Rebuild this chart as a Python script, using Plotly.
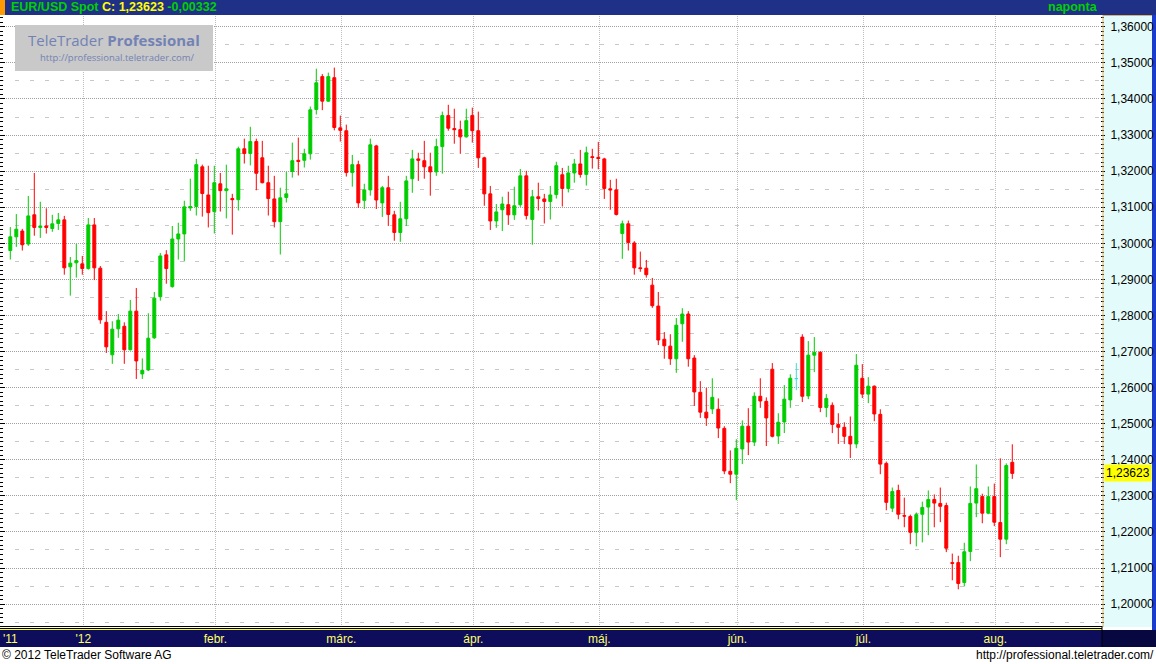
import pandas as pd
import plotly.graph_objects as go

# ---------------- data ----------------
start_date = "2011-12-15"
n_days = 168
dates = pd.bdate_range(start_date, periods=n_days) + pd.Timedelta(hours=12)

opens = [1.2980, 1.3018, 1.3034, 1.2998, 1.3079, 1.3044, 1.3048, 1.3041, 1.3055, 1.3065,
         1.2935, 1.2946, 1.2943, 1.2930, 1.3051, 1.2931, 1.2781, 1.2691, 1.2763, 1.2770,
         1.2705, 1.2812, 1.2638, 1.2649, 1.2738, 1.2852, 1.2968, 1.2880, 1.3012, 1.3026,
         1.3098, 1.3102, 1.3212, 1.3134, 1.3088, 1.3165, 1.3146, 1.3124, 1.3121, 1.3262,
         1.3249, 1.3282, 1.3237, 1.3168, 1.3123, 1.3060, 1.3127, 1.3199, 1.3230, 1.3230,
         1.3248, 1.3371, 1.3462, 1.3394, 1.3459, 1.3320, 1.3312, 1.3196, 1.3218, 1.3119,
         1.3148, 1.3270, 1.3112, 1.3154, 1.3079, 1.3030, 1.3068, 1.3179, 1.3234, 1.3229,
         1.3212, 1.3198, 1.3268, 1.3354, 1.3318, 1.3315, 1.3295, 1.3354, 1.3312, 1.3237,
         1.3137, 1.3062, 1.3093, 1.3107, 1.3079, 1.3107, 1.3187, 1.3066, 1.3129, 1.3123,
         1.3116, 1.3135, 1.3190, 1.3152, 1.3195, 1.3220, 1.3191, 1.3240, 1.3238, 1.3234,
         1.3151, 1.3148, 1.3027, 1.3054, 1.3001, 1.2932, 1.2931, 1.2884, 1.2826, 1.2734,
         1.2715, 1.2680, 1.2777, 1.2804, 1.2682, 1.2587, 1.2532, 1.2541, 1.2540, 1.2487,
         1.2368, 1.2360, 1.2430, 1.2493, 1.2449, 1.2576, 1.2562, 1.2651, 1.2466, 1.2505,
         1.2566, 1.2625, 1.2740, 1.2577, 1.2690, 1.2698, 1.2545, 1.2551, 1.2498, 1.2490,
         1.2465, 1.2444, 1.2626, 1.2582, 1.2604, 1.2526, 1.2390, 1.2266, 1.2315, 1.2245,
         1.2243, 1.2199, 1.2249, 1.2269, 1.2290, 1.2279, 1.2273, 1.2115, 1.2115, 1.2060,
         1.2146, 1.2280, 1.2298, 1.2252, 1.2298, 1.2226, 1.2180, 1.2393]

highs = [1.3045, 1.3081, 1.3040, 1.3131, 1.3195, 1.3115, 1.3097, 1.3079, 1.3084, 1.3076,
         1.2962, 1.2998, 1.2965, 1.3070, 1.3070, 1.2937, 1.2812, 1.2784, 1.2804, 1.2781,
         1.2843, 1.2876, 1.2681, 1.2806, 1.2865, 1.2973, 1.2981, 1.3048, 1.3057, 1.3118,
         1.3179, 1.3234, 1.3218, 1.3215, 1.3215, 1.3195, 1.3218, 1.3137, 1.3268, 1.3290,
         1.3323, 1.3290, 1.3284, 1.3215, 1.3187, 1.3154, 1.3198, 1.3279, 1.3293, 1.3262,
         1.3379, 1.3484, 1.3469, 1.3473, 1.3487, 1.3354, 1.3329, 1.3245, 1.3229, 1.3165,
         1.3290, 1.3273, 1.3159, 1.3187, 1.3090, 1.3115, 1.3187, 1.3259, 1.3251, 1.3284,
         1.3251, 1.3290, 1.3365, 1.3384, 1.3373, 1.3340, 1.3373, 1.3376, 1.3365, 1.3240,
         1.3159, 1.3109, 1.3129, 1.3143, 1.3157, 1.3206, 1.3201, 1.3148, 1.3168, 1.3137,
         1.3159, 1.3226, 1.3209, 1.3215, 1.3234, 1.3259, 1.3268, 1.3262, 1.3281, 1.3237,
         1.3176, 1.3179, 1.3063, 1.3063, 1.3006, 1.2977, 1.2954, 1.2904, 1.2865, 1.2754,
         1.2748, 1.2793, 1.2820, 1.2812, 1.2690, 1.2618, 1.2599, 1.2626, 1.2570, 1.2493,
         1.2426, 1.2457, 1.2509, 1.2543, 1.2587, 1.2626, 1.2573, 1.2668, 1.2529, 1.2607,
         1.2637, 1.2668, 1.2748, 1.2729, 1.2740, 1.2701, 1.2582, 1.2559, 1.2529, 1.2504,
         1.2520, 1.2693, 1.2665, 1.2629, 1.2606, 1.2540, 1.2395, 1.2323, 1.2331, 1.2295,
         1.2248, 1.2254, 1.2284, 1.2315, 1.2304, 1.2323, 1.2281, 1.2140, 1.2134, 1.2170,
         1.2326, 1.2387, 1.2306, 1.2326, 1.2334, 1.2404, 1.2390, 1.2443]

lows = [1.2955, 1.2990, 1.2980, 1.2993, 1.3021, 1.3015, 1.3027, 1.3032, 1.3037, 1.2913,
        1.2855, 1.2905, 1.2913, 1.2927, 1.2898, 1.2777, 1.2696, 1.2666, 1.2738, 1.2666,
        1.2703, 1.2624, 1.2624, 1.2646, 1.2735, 1.2841, 1.2888, 1.2877, 1.2955, 1.2950,
        1.3090, 1.3077, 1.3074, 1.3044, 1.3027, 1.3088, 1.3069, 1.3024, 1.3091, 1.3221,
        1.3216, 1.3147, 1.3166, 1.3077, 1.3044, 1.2969, 1.3113, 1.3182, 1.3188, 1.3210,
        1.3232, 1.3357, 1.3369, 1.3392, 1.3313, 1.3282, 1.3185, 1.3157, 1.3098, 1.3095,
        1.3132, 1.3095, 1.3073, 1.3048, 1.3007, 1.3004, 1.3048, 1.3140, 1.3173, 1.3179,
        1.3132, 1.3187, 1.3193, 1.3312, 1.3276, 1.3248, 1.3293, 1.3279, 1.3209, 1.3104,
        1.3037, 1.3043, 1.3034, 1.3051, 1.3065, 1.3101, 1.3066, 1.2996, 1.3091, 1.3055,
        1.3066, 1.3124, 1.3102, 1.3141, 1.3168, 1.3182, 1.3160, 1.3207, 1.3205, 1.3123,
        1.3093, 1.3077, 1.2957, 1.2980, 1.2913, 1.2921, 1.2905, 1.2821, 1.2718, 1.2680,
        1.2663, 1.2641, 1.2727, 1.2658, 1.2549, 1.2516, 1.2494, 1.2527, 1.2460, 1.2360,
        1.2335, 1.2288, 1.2388, 1.2413, 1.2438, 1.2544, 1.2438, 1.2462, 1.2444, 1.2474,
        1.2544, 1.2593, 1.2560, 1.2568, 1.2643, 1.2532, 1.2518, 1.2474, 1.2444, 1.2444,
        1.2405, 1.2432, 1.2571, 1.2557, 1.2507, 1.2360, 1.2260, 1.2255, 1.2235, 1.2213,
        1.2166, 1.2160, 1.2171, 1.2191, 1.2213, 1.2227, 1.2144, 1.2066, 1.2041, 1.2049,
        1.2119, 1.2241, 1.2224, 1.2249, 1.2216, 1.2130, 1.2166, 1.2347]

closes = [1.3018, 1.3039, 1.2996, 1.3076, 1.3044, 1.3048, 1.3044, 1.3054, 1.3065, 1.2932,
          1.2945, 1.2952, 1.2930, 1.3051, 1.2932, 1.2788, 1.2713, 1.2762, 1.2787, 1.2705,
          1.2812, 1.2674, 1.2648, 1.2737, 1.2848, 1.2965, 1.2930, 1.3012, 1.3026, 1.3101,
          1.3102, 1.3218, 1.3138, 1.3085, 1.3168, 1.3146, 1.3151, 1.3121, 1.3262, 1.3249,
          1.3282, 1.3194, 1.3168, 1.3124, 1.3060, 1.3126, 1.3137, 1.3229, 1.3227, 1.3248,
          1.3370, 1.3445, 1.3394, 1.3462, 1.3321, 1.3313, 1.3196, 1.3218, 1.3112, 1.3148,
          1.3273, 1.3120, 1.3154, 1.3080, 1.3030, 1.3068, 1.3173, 1.3234, 1.3230, 1.3212,
          1.3198, 1.3268, 1.3354, 1.3319, 1.3315, 1.3295, 1.3340, 1.3312, 1.3237, 1.3137,
          1.3062, 1.3087, 1.3109, 1.3079, 1.3104, 1.3187, 1.3077, 1.3129, 1.3124, 1.3116,
          1.3134, 1.3215, 1.3152, 1.3195, 1.3220, 1.3191, 1.3251, 1.3238, 1.3235, 1.3152,
          1.3148, 1.3080, 1.3054, 1.3002, 1.2932, 1.2930, 1.2913, 1.2827, 1.2732, 1.2716,
          1.2680, 1.2773, 1.2804, 1.2680, 1.2588, 1.2532, 1.2516, 1.2573, 1.2488, 1.2369,
          1.2360, 1.2432, 1.2493, 1.2449, 1.2576, 1.2563, 1.2516, 1.2465, 1.2504, 1.2568,
          1.2626, 1.2625, 1.2576, 1.2690, 1.2698, 1.2545, 1.2570, 1.2498, 1.2490, 1.2465,
          1.2444, 1.2662, 1.2582, 1.2604, 1.2527, 1.2388, 1.2282, 1.2312, 1.2249, 1.2244,
          1.2199, 1.2248, 1.2268, 1.2290, 1.2280, 1.2271, 1.2155, 1.2113, 1.2057, 1.2145,
          1.2279, 1.2320, 1.2252, 1.2298, 1.2227, 1.2180, 1.2384, 1.23623]

month_starts = ["2012-01-02", "2012-02-01", "2012-03-01", "2012-04-02",
                "2012-05-01", "2012-06-01", "2012-07-02", "2012-08-01"]
month_labels = ["'12", "febr.", "márc.", "ápr.", "máj.", "jún.", "júl.", "aug."]
first_label = "'11"

instrument = "EUR/USD Spot"
last_close = 1.23623
last_change = -0.00332
period_label = "naponta"

# ---------------- layout helpers ----------------
W, H = 1156, 664
PL, PR, PT, PB = 0, 1100, 16, 626          # plot area in pixels
PW, PH = PR - PL, PB - PT


def px(x):
    return (x - PL) / PW


def py(y):
    return (PB - y) / PH


y_range = [1.19393, 1.36300]
x_range = ["2011-12-13 18:45", "2012-08-27 02:50"]

GREEN = "#00cc00"
RED = "#ff0000"
CYAN = "#33dede"
FONT = "Liberation Sans, Arial, sans-serif"

df = pd.DataFrame({"d": dates, "o": opens, "h": highs, "l": lows, "c": closes})
flat = df["o"] == df["c"]
main = df[~flat]
even = df[flat]

fig = go.Figure()
fig.add_trace(go.Candlestick(
    x=main["d"], open=main["o"], high=main["h"], low=main["l"], close=main["c"],
    increasing=dict(line=dict(color=GREEN, width=1), fillcolor=GREEN),
    decreasing=dict(line=dict(color=RED, width=1), fillcolor=RED),
    whiskerwidth=0, showlegend=False, hoverinfo="x+y"))
fig.add_trace(go.Candlestick(
    x=even["d"], open=even["o"], high=even["h"], low=even["l"], close=even["c"],
    increasing=dict(line=dict(color=CYAN, width=1), fillcolor=CYAN),
    decreasing=dict(line=dict(color=CYAN, width=1), fillcolor=CYAN),
    whiskerwidth=0, showlegend=False, hoverinfo="x+y"))
# helper traces so the extra tick axes are drawn
fig.add_trace(go.Scatter(x=[dates[0]], y=[None], yaxis="y2", showlegend=False, hoverinfo="skip"))
fig.add_trace(go.Scatter(x=[dates[0]], y=[None], yaxis="y3", showlegend=False, hoverinfo="skip"))

half_steps = [round(1.195 + 0.01 * i, 3) for i in range(17)]
tick_font = dict(family=FONT, size=12, color="black")

fig.update_layout(
    width=W, height=H,
    margin=dict(l=PL, r=W - PR, t=PT, b=H - PB, pad=0),
    paper_bgcolor="white", plot_bgcolor="white",
    separators=", ",
    showlegend=False,
    boxgap=0.3,
    xaxis=dict(
        type="date", range=x_range,
        rangebreaks=[dict(bounds=["sat", "mon"])],
        rangeslider=dict(visible=False),
        tickmode="array",
        tickvals=[pd.Timestamp(m) + pd.Timedelta(hours=16) for m in month_starts],
        ticktext=month_labels,
        ticks="", showline=False, zeroline=False,
        showgrid=True, gridcolor="#bdbdbd", griddash="1px,1px", gridwidth=1,
        tickfont=dict(family=FONT, size=12, color="#ffff66"),
        ticklabelstandoff=4,
        fixedrange=True,
    ),
    yaxis=dict(
        range=y_range, side="right",
        tick0=1.20, dtick=0.01, tickformat=".5f",
        ticks="outside", ticklen=4, tickcolor="black", tickwidth=1,
        tickfont=tick_font, ticklabelstandoff=3,
        showgrid=True, gridcolor="#a0a0a0", griddash="1px,1px", gridwidth=1,
        minor=dict(tick0=1.20, dtick=0.00125, ticks="outside", ticklen=3,
                   tickcolor="black", showgrid=False),
        zeroline=False, showline=False, fixedrange=True,
    ),
    yaxis2=dict(
        range=y_range, overlaying="y", side="right",
        tickmode="array", tickvals=half_steps,
        showticklabels=False, ticks="",
        showgrid=True, gridcolor="#c8c8c8", griddash="4px,11px", gridwidth=1,
        zeroline=False, showline=False, fixedrange=True,
    ),
    yaxis3=dict(
        range=y_range, overlaying="y", side="left",
        tick0=1.20, dtick=0.01, ticks="inside", ticklen=5, tickcolor="black",
        showticklabels=False, showgrid=False,
        minor=dict(tick0=1.20, dtick=0.00125, ticks="inside", ticklen=3,
                   tickcolor="black", showgrid=False),
        zeroline=False, showline=False, fixedrange=True,
    ),
)

shapes = []


def rect(x0, y0, x1, y1, color, layer="below"):
    shapes.append(dict(type="rect", xref="paper", yref="paper",
                       x0=px(x0), x1=px(x1), y0=py(y1), y1=py(y0),
                       fillcolor=color, line=dict(width=0), layer=layer))


def hline(x0, x1, y, color, width=1, layer="above"):
    shapes.append(dict(type="line", xref="paper", yref="paper",
                       x0=px(x0), x1=px(x1), y0=py(y), y1=py(y),
                       line=dict(color=color, width=width), layer=layer))


def vline(x, y0, y1, color, width=1, layer="above"):
    shapes.append(dict(type="line", xref="paper", yref="paper",
                       x0=px(x), x1=px(x), y0=py(y0), y1=py(y1),
                       line=dict(color=color, width=width), layer=layer))


# header band
rect(0, 0, W, 15, "#1f3187")
rect(0, 0, 5, 15, "#ff9a00")
# right price panel
rect(1103, 15, 1152, 627, "#e3fbfb")
vline(1103, 15, 627, "#d8b46a")
hline(1103, 1152, 15.5, "#d8b46a")
rect(1152, 15, W, 630, "#1a3ccc")
# bottom axis band
rect(0, 630, W, 647, "#0d0d5c")
rect(1102, 630, W, 647, "#080840")
hline(0, 1102, 626.5, "black")
hline(0, 1102, 628.5, "black")
hline(0, 1102, 629.5, "#ffff00")
vline(1102, 626, 647, "black")
# watermark box
rect(15, 25, 213, 71, "#c9c9c9", layer="above")

fig.update_layout(shapes=shapes)

green_txt = "#00d000"
ann = [
    dict(x=px(9), y=py(7.5), xref="paper", yref="paper", xanchor="left", yanchor="middle",
         showarrow=False,
         text=(f"<b><span style='color:{green_txt}'>{instrument} </span>"
               f"<span style='color:#ffff00'>C: {last_close:.5f}".replace(".", ",") + "</span>"
               f"<span style='color:{green_txt}'> {last_change:.5f}".replace(".", ",") + "</span></b>"),
         font=dict(family=FONT, size=12.5, color=green_txt)),
    dict(x=px(1100), y=py(7.5), xref="paper", yref="paper", xanchor="right", yanchor="middle",
         showarrow=False, text=f"<b>{period_label}</b>",
         font=dict(family=FONT, size=12.5, color=green_txt)),
    dict(x=px(1), y=py(638.5), xref="paper", yref="paper", xanchor="left", yanchor="middle",
         showarrow=False, text=first_label,
         font=dict(family=FONT, size=12, color="#ffff66")),
    dict(x=px(1104), y=last_close, xref="paper", yref="y", xanchor="left", yanchor="middle",
         showarrow=False, text=f"{last_close:.5f}".replace(".", ","), bgcolor="#ffff00",
         borderpad=1, font=tick_font),
    dict(x=px(26), y=py(40.5), xref="paper", yref="paper", xanchor="left", yanchor="middle",
         showarrow=False, text="TeleTrader <b>Professional</b>",
         font=dict(family="Open Sans, Liberation Sans, sans-serif", size=15, color="#7282b4")),
    dict(x=px(197), y=py(57.5), xref="paper", yref="paper", xanchor="right", yanchor="middle",
         showarrow=False, text="http://professional.teletrader.com/",
         font=dict(family="Open Sans, Liberation Sans, sans-serif", size=9.5, color="#7282b4")),
    dict(x=px(0), y=py(655), xref="paper", yref="paper", xanchor="left", yanchor="middle",
         showarrow=False, text="© 2012 TeleTrader Software AG",
         font=dict(family=FONT, size=12, color="black")),
    dict(x=px(W), y=py(655), xref="paper", yref="paper", xanchor="right", yanchor="middle",
         showarrow=False, text="http://professional.teletrader.com/",
         font=dict(family=FONT, size=12, color="black")),
]
fig.update_layout(annotations=ann)

fig.write_html(
    "out.html",
    config={"displayModeBar": False, "staticPlot": True},
    post_script="document.body.style.margin='0';document.body.style.padding='0';"
                "document.documentElement.style.overflow='hidden';",
)
